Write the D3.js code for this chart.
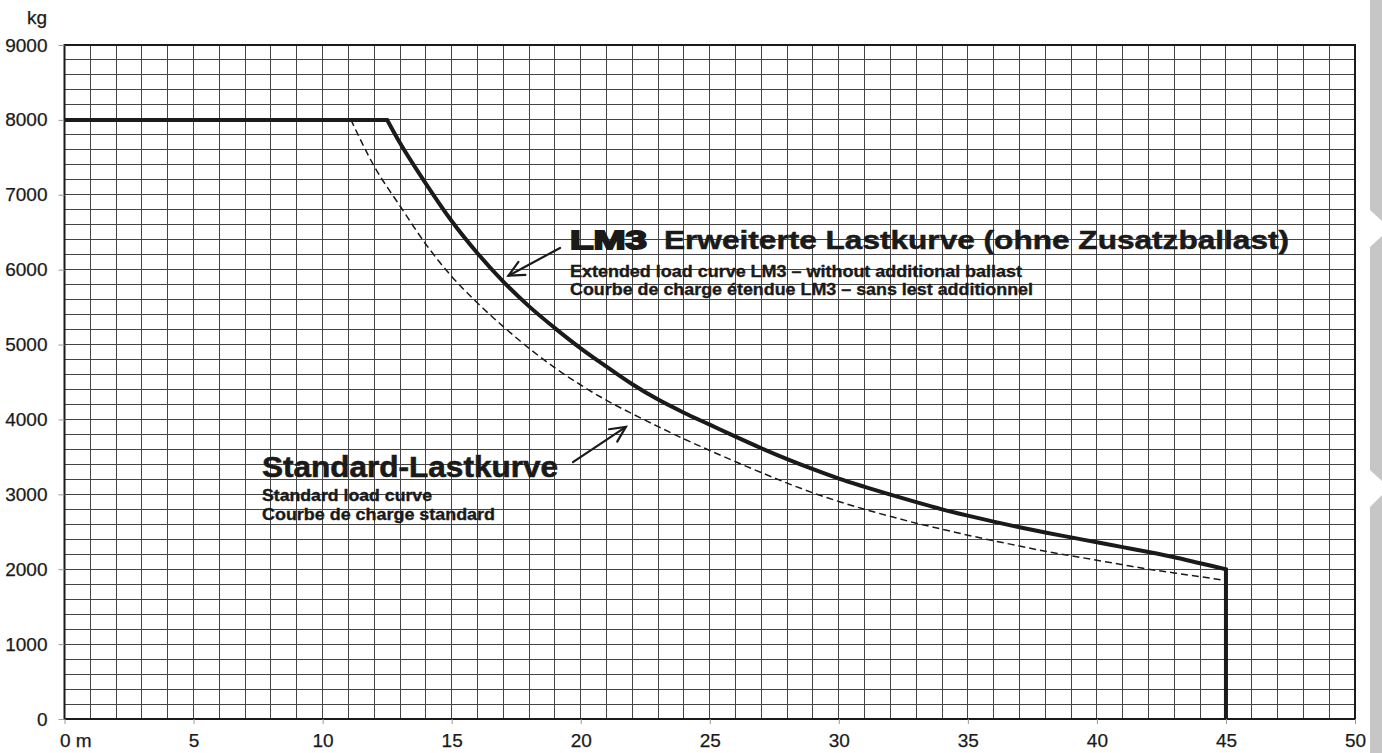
<!DOCTYPE html>
<html>
<head>
<meta charset="utf-8">
<script src="https://cdn.jsdelivr.net/npm/d3@7"></script>
<style>
  body { margin: 0; background: #fff; }
  svg { display: block; font-family: "Liberation Sans", Arial, Helvetica, sans-serif; }
</style>
</head>
<body>
<div id="chart"></div>
<script>
// radius in m, load in kg
const extRadius = [0, 12.5, 13, 14, 15, 16, 17, 18, 19, 20, 21, 22, 23, 24, 25, 26, 27, 28, 29, 30,
                   31, 32, 33, 34, 35, 36, 37, 38, 39, 40, 41, 42, 43, 44, 45, 45];
const extLoad   = [8000, 8000, 7690, 7150, 6650, 6220, 5840, 5510, 5220, 4950, 4705, 4470, 4265, 4090, 3930, 3770, 3615, 3470, 3335, 3210,
                   3100, 2995, 2895, 2800, 2715, 2635, 2560, 2490, 2425, 2360, 2295, 2230, 2160, 2080, 2000, 0];

const stdRadius = [0, 11.1, 12, 13, 14, 15, 16, 17, 18, 19, 20, 21, 22, 23, 24, 25, 26, 27, 28, 29, 30,
                   31, 32, 33, 34, 35, 36, 37, 38, 39, 40, 41, 42, 43, 44, 45];
const stdLoad   = [8000, 8000, 7380, 6850, 6340, 5910, 5555, 5240, 4950, 4690, 4460, 4255, 4075, 3905, 3740, 3585, 3435, 3290, 3150, 3020, 2905,
                   2800, 2705, 2615, 2535, 2455, 2380, 2310, 2240, 2180, 2120, 2060, 2000, 1950, 1900, 1850];

const xTicks = [0, 5, 10, 15, 20, 25, 30, 35, 40, 45, 50];
const yTicks = [0, 1000, 2000, 3000, 4000, 5000, 6000, 7000, 8000, 9000];

const width = 1382, height = 753;

const svg = d3.select("#chart").append("svg")
    .attr("width", width)
    .attr("height", height);

const x = d3.scaleLinear().domain([0, 50]).range([64.5, 1355]);
const y = d3.scaleLinear().domain([0, 9000]).range([719, 45]);

// grey tabs on the right edge
const tabs = [
  [[1370, 0], [1382, 0], [1382, 221], [1370, 210]],
  [[1382, 236], [1370, 247], [1370, 470], [1382, 481]],
  [[1382, 495], [1370, 507], [1370, 753], [1382, 753]]
];
svg.selectAll("polygon.tab").data(tabs).enter().append("polygon")
    .attr("class", "tab")
    .attr("points", d => d.join(" "))
    .attr("fill", "#c6c6c6");

// grid, 1 m by 200 kg
const grid = svg.append("g").attr("stroke", "#444").attr("stroke-width", 1).attr("shape-rendering", "crispEdges");
grid.selectAll("line.v").data(d3.range(1, 50)).enter().append("line")
    .attr("x1", d => x(d)).attr("x2", d => x(d))
    .attr("y1", y(0)).attr("y2", y(9000));
grid.selectAll("line.h").data(d3.range(200, 9000, 200)).enter().append("line")
    .attr("x1", x(0)).attr("x2", x(50))
    .attr("y1", d => y(d)).attr("y2", d => y(d));

// frame
svg.append("rect")
    .attr("x", x(0)).attr("y", y(9000))
    .attr("width", x(50) - x(0)).attr("height", y(0) - y(9000))
    .attr("fill", "none").attr("stroke", "#1a1a1a").attr("stroke-width", 2);

// axes
const yAxis = svg.append("g")
    .attr("transform", `translate(${x(0)},0)`)
    .call(d3.axisLeft(y).tickValues(yTicks).tickSize(6).tickPadding(11).tickFormat(d3.format("d")));
const xAxis = svg.append("g")
    .attr("transform", `translate(0,${y(0)})`)
    .call(d3.axisBottom(x).tickValues(xTicks).tickSize(5).tickPadding(10).tickFormat(d => d === 0 ? "0 m" : d));

[yAxis, xAxis].forEach(g => {
  g.select(".domain").remove();
  g.selectAll(".tick line").attr("stroke", "#999");
  g.selectAll(".tick text").attr("fill", "#1a1a1a").attr("font-size", 19)
      .attr("font-family", "Liberation Sans, Arial, sans-serif")
      .attr("stroke", "#1a1a1a").attr("stroke-width", 0.25);
});
xAxis.selectAll(".tick text").filter(d => d === 0).attr("text-anchor", "start").attr("x", -5);

svg.append("text")
    .attr("x", 47).attr("y", 24)
    .attr("text-anchor", "end")
    .attr("font-size", 19)
    .attr("fill", "#1a1a1a")
    .attr("stroke", "#1a1a1a").attr("stroke-width", 0.25)
    .text("kg");

// curves: flat part straight, falling part smoothed
const flat = d3.line().x(d => x(d[0])).y(d => y(d[1]));
const smooth = d3.line().curve(d3.curveMonotoneX).x(d => x(d[0])).y(d => y(d[1]));

function curvePath(rx, ld) {
  const pts = d3.zip(rx, ld);
  const k = ld.lastIndexOf(8000);
  let d = flat(pts.slice(0, k + 1));
  let tail = pts.slice(k);
  let drop = null;
  if (tail[tail.length - 1][0] === tail[tail.length - 2][0]) {
    drop = tail.slice(-2);
    tail = tail.slice(0, -1);
  }
  d += smooth(tail).replace(/^M/, "L");
  if (drop) d += "L" + x(drop[1][0]) + "," + y(drop[1][1]);
  return d;
}

svg.append("path")
    .attr("d", curvePath(stdRadius, stdLoad))
    .attr("fill", "none")
    .attr("stroke", "#1a1a1a")
    .attr("stroke-width", 1.5)
    .attr("stroke-dasharray", "7,4");

svg.append("path")
    .attr("d", curvePath(extRadius, extLoad))
    .attr("fill", "none")
    .attr("stroke", "#1a1a1a")
    .attr("stroke-width", 4)
    .attr("stroke-linejoin", "miter");

// arrows
function arrow(from, to) {
  const x1 = x(from[0]), y1 = y(from[1]), x2 = x(to[0]), y2 = y(to[1]);
  const a = Math.atan2(y1 - y2, x1 - x2);
  const len = 17, spread = 0.45;
  const g = svg.append("g").attr("stroke", "#1a1a1a").attr("stroke-width", 2.2).attr("fill", "none").attr("stroke-linecap", "round");
  g.append("line").attr("x1", x1).attr("y1", y1).attr("x2", x2).attr("y2", y2);
  g.append("path").attr("d",
    `M${x2 + len * Math.cos(a + spread)},${y2 + len * Math.sin(a + spread)}L${x2},${y2}L${x2 + len * Math.cos(a - spread)},${y2 + len * Math.sin(a - spread)}`);
}
arrow([19.2, 6290], [17.2, 5920]);
arrow([19.7, 3430], [21.75, 3900]);

// labels
function label(txt, px, py, size, len, sw) {
  return svg.append("text")
      .attr("x", px).attr("y", py)
      .attr("font-size", size)
      .attr("font-weight", "bold")
      .attr("fill", "#1a1a1a")
      .attr("stroke", "#1a1a1a")
      .attr("stroke-width", sw)
      .attr("textLength", len)
      .attr("lengthAdjust", "spacingAndGlyphs")
      .text(txt);
}
label("LM3", 570, 249, 26, 77, 1.8);
label("Erweiterte Lastkurve (ohne Zusatzballast)", 664, 249, 26, 625, 0.5);
label("Extended load curve LM3 \u2013 without additional ballast", 570, 277, 16, 452, 0.35);
label("Courbe de charge \u00e9tendue LM3 \u2013 sans lest additionnel", 570, 295, 16, 463, 0.35);

label("Standard-Lastkurve", 262, 477, 29, 296, 0.6);
label("Standard load curve", 262, 501, 16, 170, 0.35);
label("Courbe de charge standard", 262, 520, 16, 233, 0.35);
</script>
</body>
</html>
